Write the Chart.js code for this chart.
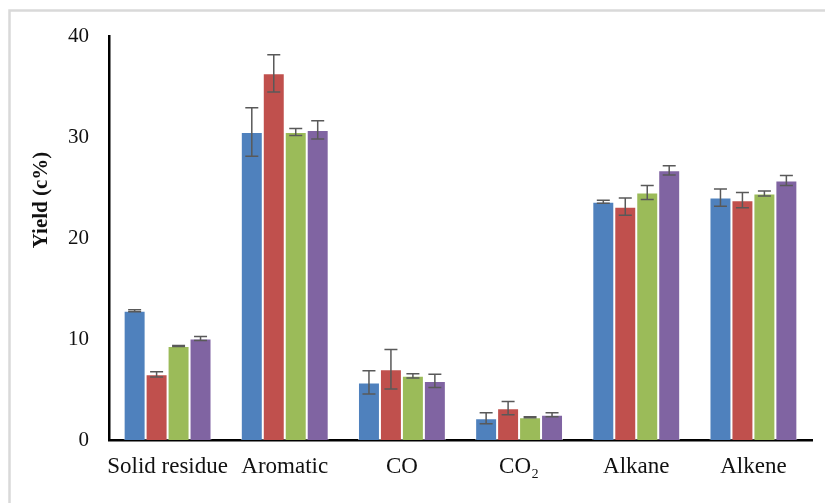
<!DOCTYPE html>
<html>
<head>
<meta charset="utf-8">
<title>Product yields</title>
<script src="https://cdn.jsdelivr.net/npm/chart.js@4/dist/chart.umd.min.js"></script>
<style>
  html, body { margin: 0; padding: 0; background: #ffffff; }
  #wrap { position: relative; width: 825px; height: 503px; }
  canvas { display: block; }
</style>
</head>
<body>
<div id="wrap"><canvas id="chart" width="825" height="503"></canvas></div>
<script>
// Product categories along the x axis
const categories = ['Solid residue', 'Aromatic', 'CO', 'CO\u2082', 'Alkane', 'Alkene'];

// Yields (c%) for the four runs, with their error (± half-range)
const series1 = [12.8, 30.5, 5.7, 2.15, 23.6, 24.0];
const series1Err = [0.1, 2.4, 1.15, 0.55, 0.15, 0.85];
const series2 = [6.5, 36.3, 7.0, 3.15, 23.1, 23.75];
const series2Err = [0.25, 1.85, 1.95, 0.65, 0.85, 0.75];
const series3 = [9.3, 30.5, 6.35, 2.25, 24.5, 24.4];
const series3Err = [0.05, 0.35, 0.2, 0.05, 0.7, 0.25];
const series4 = [10.05, 30.7, 5.85, 2.5, 26.7, 25.7];
const series4Err = [0.2, 0.9, 0.65, 0.2, 0.45, 0.5];

// Y axis range and ticks
const yTicks = [0, 10, 20, 30, 40];
const yTitle = 'Yield (c%)';

const FONT = "'Liberation Serif', 'Times New Roman', serif";

// Outer frame around the figure
const framePlugin = {
  id: 'frame',
  beforeDraw(chart) {
    const ctx = chart.ctx;
    ctx.save();
    ctx.fillStyle = '#ffffff';
    ctx.fillRect(0, 0, chart.width, chart.height);
    ctx.strokeStyle = '#d9d9d9';
    ctx.lineWidth = 2.5;
    ctx.strokeRect(9.5, 10.5, chart.width + 20, chart.height + 20);
    ctx.restore();
  }
};

// Error bars with caps, drawn on top of each bar
const errorBarPlugin = {
  id: 'errorBars',
  afterDatasetsDraw(chart) {
    const ctx = chart.ctx;
    const y = chart.scales.y;
    ctx.save();
    ctx.strokeStyle = '#595959';
    ctx.lineWidth = 1.5;
    chart.data.datasets.forEach((ds, di) => {
      const meta = chart.getDatasetMeta(di);
      meta.data.forEach((bar, i) => {
        const v = ds.data[i];
        const e = ds.errors[i];
        const yHi = y.getPixelForValue(v + e);
        const yLo = y.getPixelForValue(v - e);
        const x = bar.x;
        const cap = 6.5;
        ctx.beginPath();
        ctx.moveTo(x, yHi); ctx.lineTo(x, yLo);
        ctx.moveTo(x - cap, yHi); ctx.lineTo(x + cap, yHi);
        ctx.moveTo(x - cap, yLo); ctx.lineTo(x + cap, yLo);
        ctx.stroke();
      });
    });
    ctx.restore();
  }
};

// Rotated y-axis title
const yTitlePlugin = {
  id: 'yTitle',
  afterDraw(chart) {
    const ctx = chart.ctx;
    ctx.save();
    ctx.translate(42, 200);
    ctx.rotate(-Math.PI / 2);
    ctx.font = 'bold 21px ' + FONT;
    ctx.fillStyle = '#111111';
    ctx.textAlign = 'center';
    ctx.textBaseline = 'middle';
    ctx.fillText(yTitle, 0, 0);
    ctx.restore();
  }
};

function makeSet(label, data, errors, color) {
  return {
    label: label,
    data: data,
    errors: errors,
    backgroundColor: color,
    borderColor: 'rgba(255,255,255,0.55)',
    borderWidth: 1,
    borderSkipped: 'bottom',
    categoryPercentage: 0.75,
    barPercentage: 1.0
  };
}

new Chart(document.getElementById('chart'), {
  type: 'bar',
  data: {
    labels: categories,
    datasets: [
      makeSet('Series 1', series1, series1Err, '#4f81bd'),
      makeSet('Series 2', series2, series2Err, '#c0504d'),
      makeSet('Series 3', series3, series3Err, '#9bbb59'),
      makeSet('Series 4', series4, series4Err, '#8064a2')
    ]
  },
  options: {
    responsive: false,
    animation: false,
    devicePixelRatio: 1,
    layout: { padding: { left: 0, right: 13, top: 36, bottom: 0 } },
    plugins: {
      legend: { display: false },
      tooltip: { enabled: false }
    },
    scales: {
      x: {
        grid: { display: false, drawTicks: false },
        border: { display: true, color: '#000000', width: 2.5 },
        ticks: {
          color: '#111111',
          font: { family: FONT, size: 23 },
          padding: 13,
          maxRotation: 0,
          autoSkip: false
        },
        afterFit(scale) { scale.height = 63; }
      },
      y: {
        min: 0,
        max: 40,
        afterBuildTicks(scale) { scale.ticks = yTicks.map(v => ({ value: v })); },
        grid: { display: false, drawTicks: false },
        border: { display: true, color: '#000000', width: 2.5 },
        ticks: {
          color: '#111111',
          font: { family: FONT, size: 21 },
          padding: 20
        },
        afterFit(scale) { scale.width = 109; }
      }
    }
  },
  plugins: [framePlugin, errorBarPlugin, yTitlePlugin]
});
</script>
</body>
</html>
